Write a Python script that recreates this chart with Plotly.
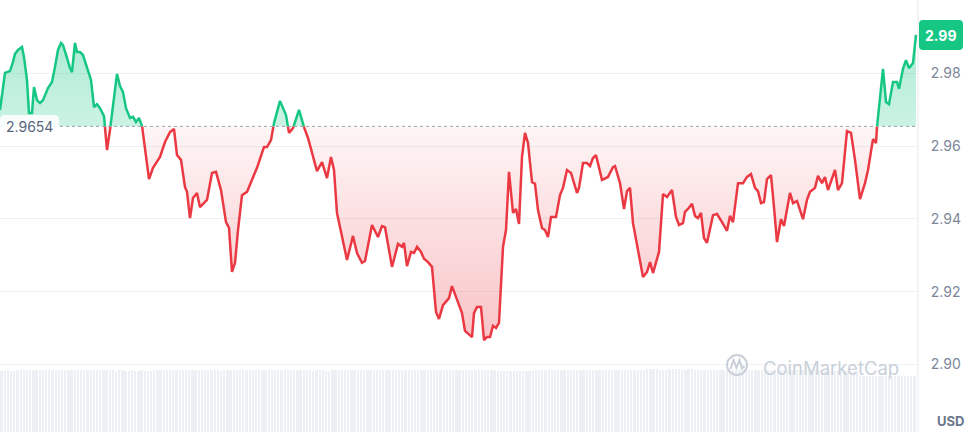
import plotly.graph_objects as go

# ---------------- data ----------------
time_steps = [0, 5, 7, 10, 13, 15, 18, 22, 24, 27, 29, 32, 34, 37, 40, 43, 48, 52, 55, 58,
              61, 63, 67, 70, 72, 75, 77, 80, 83, 87, 91, 94, 97, 100, 104, 107, 110, 113, 117, 120,
              123, 126, 130, 133, 136, 139, 142, 145, 149, 153, 157, 160, 165, 170, 174, 177, 181, 185, 187, 190,
              193, 197, 200, 207, 212, 216, 221, 226, 229, 232, 235, 238, 242, 247, 252, 257, 262, 264, 267, 271,
              274, 280, 286, 289, 293, 299, 304, 308, 313, 317, 322, 327, 331, 334, 337, 342, 347, 353, 357, 362,
              365, 372, 378, 382, 385, 392, 398, 402, 404, 407, 411, 414, 417, 421, 424, 428, 432, 436, 439, 443,
              447, 449, 452, 455, 458, 462, 465, 469, 472, 474, 477, 481, 484, 487, 490, 493, 496, 499, 503, 506,
              509, 513, 516, 519, 522, 525, 528, 532, 535, 538, 542, 545, 548, 551, 556, 560, 563, 567, 571, 577,
              579, 583, 587, 590, 593, 596, 602, 608, 613, 615, 620, 624, 627, 630, 633, 638, 643, 647, 650, 653,
              657, 659, 663, 667, 672, 676, 679, 683, 685, 688, 692, 695, 698, 701, 704, 707, 713, 717, 722, 727,
              730, 733, 738, 743, 747, 751, 755, 758, 761, 764, 767, 771, 774, 777, 781, 784, 790, 793, 797, 803,
              807, 810, 815, 818, 822, 825, 828, 835, 838, 842, 847, 851, 855, 860, 865, 868, 873, 876, 877, 879,
              883, 886, 889, 893, 897, 899, 903, 906, 909, 913, 916]

prices = [2.9699, 2.9801, 2.9803, 2.9806, 2.9831, 2.9853, 2.9864, 2.9872, 2.9844, 2.9781,
          2.9691, 2.9691, 2.9762, 2.9726, 2.9718, 2.9726, 2.9759, 2.9776, 2.9817, 2.9864,
          2.9883, 2.9877, 2.9842, 2.9814, 2.9803, 2.9883, 2.9858, 2.9858, 2.9850, 2.9814,
          2.9781, 2.9707, 2.9715, 2.9704, 2.9682, 2.9589, 2.9644, 2.9713, 2.9798, 2.9765,
          2.9748, 2.9704, 2.9677, 2.9680, 2.9666, 2.9677, 2.9656, 2.9597, 2.9509, 2.9540,
          2.9559, 2.9570, 2.9611, 2.9638, 2.9647, 2.9575, 2.9562, 2.9487, 2.9474, 2.9402,
          2.9457, 2.9471, 2.9432, 2.9452, 2.9526, 2.9529, 2.9479, 2.9391, 2.9375, 2.9254,
          2.9279, 2.9369, 2.9465, 2.9474, 2.9507, 2.9540, 2.9581, 2.9597, 2.9597, 2.9616,
          2.9663, 2.9724, 2.9685, 2.9636, 2.9649, 2.9699, 2.9652, 2.9622, 2.9570, 2.9531,
          2.9556, 2.9512, 2.9570, 2.9534, 2.9416, 2.9350, 2.9287, 2.9353, 2.9306, 2.9279,
          2.9284, 2.9383, 2.9350, 2.9380, 2.9377, 2.9268, 2.9331, 2.9323, 2.9334, 2.9270,
          2.9309, 2.9306, 2.9323, 2.9309, 2.9290, 2.9281, 2.9268, 2.9144, 2.9125, 2.9163,
          2.9177, 2.9182, 2.9215, 2.9191, 2.9171, 2.9141, 2.9092, 2.9081, 2.9075, 2.9141,
          2.9158, 2.9158, 2.9067, 2.9075, 2.9075, 2.9106, 2.9100, 2.9114, 2.9323, 2.9369,
          2.9529, 2.9416, 2.9427, 2.9386, 2.9570, 2.9636, 2.9608, 2.9501, 2.9496, 2.9424,
          2.9375, 2.9369, 2.9350, 2.9405, 2.9405, 2.9465, 2.9485, 2.9534, 2.9526, 2.9471,
          2.9485, 2.9553, 2.9553, 2.9545, 2.9567, 2.9575, 2.9507, 2.9515, 2.9542, 2.9545,
          2.9498, 2.9427, 2.9476, 2.9485, 2.9388, 2.9314, 2.9240, 2.9254, 2.9281, 2.9251,
          2.9295, 2.9309, 2.9468, 2.9460, 2.9479, 2.9405, 2.9383, 2.9388, 2.9419, 2.9427,
          2.9441, 2.9408, 2.9402, 2.9416, 2.9347, 2.9334, 2.9410, 2.9413, 2.9391, 2.9367,
          2.9408, 2.9391, 2.9498, 2.9498, 2.9515, 2.9523, 2.9485, 2.9476, 2.9443, 2.9446,
          2.9509, 2.9520, 2.9432, 2.9336, 2.9399, 2.9380, 2.9471, 2.9443, 2.9449, 2.9399,
          2.9452, 2.9474, 2.9485, 2.9518, 2.9498, 2.9515, 2.9479, 2.9534, 2.9479, 2.9498,
          2.9641, 2.9636, 2.9562, 2.9454, 2.9498, 2.9534, 2.9619, 2.9608, 2.9652, 2.9707,
          2.9812, 2.9721, 2.9715, 2.9776, 2.9776, 2.9757, 2.9812, 2.9836, 2.9814, 2.9828,
          2.9905]

base_price = 2.9654
base_label = "2.9654"
last_price_label = "2.99"
y_tick_values = [2.90, 2.92, 2.94, 2.96, 2.98, 3.00]
y_tick_labels = ["2.90", "2.92", "2.94", "2.96", "2.98", ""]
currency_label = "USD"
watermark_text = "CoinMarketCap"

# volume (arbitrary units), 288 five-minute bars
volumes = [
    0.99, 0.99, 1.00, 0.99, 0.99, 1.00, 1.00, 1.01, 1.01, 1.01, 1.01, 1.01, 1.00, 1.01, 1.01, 1.00, 1.01, 1.01, 1.00, 1.01, 1.00, 1.01, 1.01, 1.00,
    1.00, 1.01, 1.00, 1.00, 1.01, 1.00, 1.00, 1.00, 1.01, 1.00, 1.00, 1.00, 0.99, 1.00, 1.00, 0.99, 0.99, 1.00, 0.99, 0.99, 1.00, 0.99, 0.99, 0.99,
    1.00, 1.00, 1.00, 1.00, 1.00, 1.00, 1.00, 1.00, 1.00, 1.00, 1.00, 1.01, 1.01, 1.01, 1.00, 1.01, 1.01, 1.00, 1.00, 1.00, 1.00, 0.99, 1.00, 1.00,
    1.00, 1.00, 1.00, 1.00, 1.00, 1.01, 1.01, 1.01, 1.00, 1.01, 1.01, 1.01, 1.01, 1.00, 1.01, 1.01, 1.00, 1.00, 1.00, 1.00, 1.00, 1.00, 1.00, 1.00,
    1.00, 1.00, 0.99, 1.00, 1.00, 1.00, 0.99, 0.99, 1.00, 1.00, 1.00, 1.01, 1.01, 1.01, 1.01, 1.00, 1.01, 1.00, 1.00, 1.00, 1.00, 1.00, 1.00, 1.00,
    1.00, 1.00, 1.00, 1.00, 1.00, 1.00, 1.00, 1.01, 1.01, 1.00, 1.00, 1.00, 1.00, 1.00, 1.00, 1.00, 1.00, 1.00, 1.00, 1.00, 1.00, 1.00, 1.00, 1.00,
    1.00, 1.00, 1.00, 1.00, 1.00, 1.00, 1.00, 1.00, 1.00, 1.00, 1.00, 1.00, 0.99, 0.99, 0.99, 0.99, 0.99, 0.99, 0.99, 0.99, 0.99, 0.99, 0.99, 0.99,
    1.00, 1.00, 1.00, 1.00, 1.00, 1.00, 1.00, 1.00, 1.00, 1.00, 1.00, 1.00, 1.00, 1.00, 1.00, 1.00, 1.00, 1.00, 1.00, 1.00, 1.00, 1.00, 1.00, 1.00,
    1.00, 1.00, 1.00, 1.00, 1.00, 1.00, 1.01, 1.01, 1.01, 1.01, 1.01, 1.02, 1.02, 1.02, 1.02, 1.01, 1.01, 1.01, 1.02, 1.02, 1.02, 1.02, 1.01, 1.01,
    1.02, 1.02, 1.01, 1.01, 1.01, 1.01, 1.01, 1.01, 1.01, 1.01, 1.01, 1.01, 1.00, 1.00, 1.01, 1.01, 1.00, 1.00, 1.00, 1.00, 1.00, 1.00, 1.00, 1.00,
    1.00, 1.00, 1.00, 1.00, 1.00, 1.00, 1.00, 1.00, 1.00, 1.00, 1.00, 1.00, 1.00, 1.00, 1.00, 1.00, 1.00, 0.99, 0.99, 0.99, 0.99, 0.99, 0.99, 0.99,
    0.99, 0.99, 0.99, 0.99, 0.99, 0.99, 0.91, 0.91, 0.91, 0.91, 0.91, 0.90, 0.90, 0.90, 0.90, 0.90, 0.90, 0.90, 0.90, 0.90, 0.90, 0.90, 0.90, 0.90,
]

# ---------------- styling ----------------
GREEN = "#16c784"
RED = "#ea3943"
GRID = "#eff2f5"
TEXT = "#58667e"
TICK = "#7d879a"
FONT = "Inter, Roboto, 'Open Sans', sans-serif"

W, H = 972, 432
PLOT_W = 918  # plot area width in px (right margin holds the axis)
Y_RANGE = [2.88143, 3.00011]
X_RANGE = [0, PLOT_W]

# insert exact baseline crossings so the two colours split cleanly
T, P = [time_steps[0]], [prices[0]]
for i in range(1, len(prices)):
    a, b = prices[i - 1], prices[i]
    if (a - base_price) * (b - base_price) < 0:
        f = (base_price - a) / (b - a)
        T.append(time_steps[i - 1] + f * (time_steps[i] - time_steps[i - 1]))
        P.append(base_price)
    T.append(time_steps[i])
    P.append(prices[i])

up_line = [v if v >= base_price else None for v in P]
dn_line = [v if v <= base_price else None for v in P]
up_fill = [max(v, base_price) for v in P]
dn_fill = [min(v, base_price) for v in P]
base_line = [base_price] * len(P)

fig = go.Figure()

# volume bars
n = len(volumes)
step = 916 / n
vol_x = [step * (i + 0.5) for i in range(n)]
fig.add_trace(go.Bar(x=vol_x, y=volumes, yaxis="y2", marker=dict(color="#eceff3", line=dict(width=0)),
                     width=step * 0.72, hoverinfo="skip", showlegend=False))

# green fill
fig.add_trace(go.Scatter(x=T, y=base_line, mode="lines", line=dict(width=0), hoverinfo="skip", showlegend=False))
fig.add_trace(go.Scatter(x=T, y=up_fill, mode="lines", line=dict(width=0), fill="tonexty",
                         fillgradient=dict(type="vertical", start=base_price, stop=2.992,
                                           colorscale=[[0, "rgba(22,199,132,0.22)"], [1, "rgba(22,199,132,0.36)"]]),
                         hoverinfo="skip", showlegend=False))
# red fill
fig.add_trace(go.Scatter(x=T, y=base_line, mode="lines", line=dict(width=0), hoverinfo="skip", showlegend=False))
fig.add_trace(go.Scatter(x=T, y=dn_fill, mode="lines", line=dict(width=0), fill="tonexty",
                         fillgradient=dict(type="vertical", start=2.906, stop=base_price,
                                           colorscale=[[0, "rgba(234,57,67,0.30)"], [1, "rgba(234,57,67,0.05)"]]),
                         hoverinfo="skip", showlegend=False))
# lines
fig.add_trace(go.Scatter(x=T, y=dn_line, mode="lines", line=dict(color=RED, width=2.5), connectgaps=False,
                         showlegend=False))
fig.add_trace(go.Scatter(x=T, y=up_line, mode="lines", line=dict(color=GREEN, width=2.5), connectgaps=False,
                         showlegend=False))


def px(x, y):
    """pixel position in the figure -> paper coordinates"""
    return x / PLOT_W, 1 - y / H


shapes = []
# baseline (dotted)
shapes.append(dict(type="line", xref="paper", yref="y", x0=0, x1=1, y0=base_price, y1=base_price,
                   line=dict(color="#9a9fa8", width=1, dash="dot"), layer="above"))
# right border of plot area
shapes.append(dict(type="line", xref="paper", yref="paper", x0=1, x1=1, y0=0, y1=1,
                   line=dict(color="#e6e9ee", width=1)))


def rounded_rect(x0, y0, x1, y1, r):
    def p(x, y):
        a, b = px(x, y)
        return f"{a:.5f},{b:.5f}"
    return (f"M {p(x0 + r, y0)} L {p(x1 - r, y0)} Q {p(x1, y0)} {p(x1, y0 + r)} "
            f"L {p(x1, y1 - r)} Q {p(x1, y1)} {p(x1 - r, y1)} L {p(x0 + r, y1)} "
            f"Q {p(x0, y1)} {p(x0, y1 - r)} L {p(x0, y0 + r)} Q {p(x0, y0)} {p(x0 + r, y0)} Z")


# rounded box behind the last price
shapes.append(dict(type="path", xref="paper", yref="paper", path=rounded_rect(919, 20, 963, 50, 4),
                   fillcolor=GREEN, line=dict(width=0), layer="above"))
# white rounded box behind base label
shapes.append(dict(type="path", xref="paper", yref="paper", path=rounded_rect(0, 115, 59, 139, 5),
                   fillcolor="rgba(255,255,255,0.88)", line=dict(width=0), layer="above"))
# watermark logo
cx, cy, r = 737, 365, 10
a0, b0 = px(cx - r, cy - r)
a1, b1 = px(cx + r, cy + r)
shapes.append(dict(type="circle", xref="paper", yref="paper", x0=a0, y0=b1, x1=a1, y1=b0,
                   line=dict(color="#c9d0da", width=2)))
wave = [(730.5, 369), (733.5, 360), (736.5, 368), (739.5, 360), (742, 368.5), (744.5, 366)]
wp = "M " + " L ".join(f"{px(x, y)[0]:.5f},{px(x, y)[1]:.5f}" for x, y in wave)
shapes.append(dict(type="path", xref="paper", yref="paper", path=wp, line=dict(color="#c9d0da", width=2)))

annotations = [
    dict(text=base_label, xref="paper", yref="y", x=px(4, 0)[0], y=base_price, xanchor="left", yanchor="middle",
         showarrow=False, font=dict(family=FONT, size=14, color=TEXT)),
    dict(text=f"<b>{last_price_label}</b>", xref="paper", yref="paper", x=px(941, 0)[0], y=px(0, 35.5)[1],
         xanchor="center", yanchor="middle", showarrow=False, font=dict(family=FONT, size=14, color="white")),
    dict(text=f"<b>{currency_label}</b>", xref="paper", yref="paper", x=px(950, 0)[0], y=px(0, 421)[1],
         xanchor="center", yanchor="middle", showarrow=False, font=dict(family=FONT, size=13, color="#6b778c")),
    dict(text=watermark_text, xref="paper", yref="paper", x=px(761, 0)[0], y=px(0, 368)[1],
         xanchor="left", yanchor="middle", showarrow=False, font=dict(family=FONT, size=18.5, color="#c9d0da")),
]

fig.update_layout(
    width=W, height=H,
    margin=dict(l=0, r=W - PLOT_W, t=0, b=0),
    paper_bgcolor="white", plot_bgcolor="white",
    showlegend=False, bargap=0,
    xaxis=dict(range=X_RANGE, visible=False, fixedrange=True),
    yaxis=dict(range=Y_RANGE, side="right", tickvals=y_tick_values, ticktext=y_tick_labels,
               showgrid=True, gridcolor=GRID, gridwidth=1, zeroline=False, showline=False,
               ticks="outside", ticklen=9, tickcolor="rgba(0,0,0,0)",
               tickfont=dict(family=FONT, size=14, color=TICK), fixedrange=True),
    yaxis2=dict(range=[0, 7], overlaying="y", visible=False, fixedrange=True),
    shapes=shapes, annotations=annotations,
)

fig.write_html("out.html", config={"displayModeBar": False},
               post_script="document.body.style.margin='0';document.body.style.padding='0';"
                           "document.documentElement.style.overflow='hidden';")
